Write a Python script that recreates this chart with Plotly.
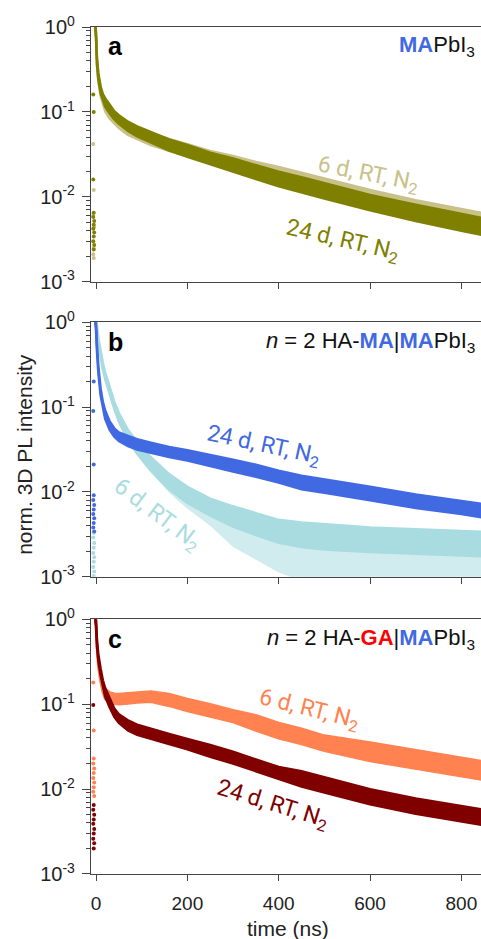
import plotly.graph_objects as go

# ---------------- data ----------------
time_ns = [-2, 0, 2, 5, 10, 15, 20, 30, 40, 50, 70, 90, 120, 160, 200,
           250, 300, 350, 400, 450, 500, 600, 700, 800, 845]

# panel a : MAPbI3
a24_lo = [1.047, 0.741, 0.363, 0.240, 0.166, 0.135, 0.115, 0.0955, 0.0813, 0.0724, 0.0596, 0.0513, 0.0437,
          0.0351, 0.0295, 0.0240, 0.0195, 0.0162, 0.0133, 0.0112, 0.00955, 0.00692, 0.00519, 0.00398, 0.00355]
a24_hi = [1.202, 0.851, 0.437, 0.288, 0.200, 0.162, 0.145, 0.120, 0.102, 0.0912, 0.0767, 0.0676, 0.0575,
          0.0473, 0.0407, 0.0331, 0.0282, 0.0234, 0.0197, 0.0170, 0.0145, 0.0105, 0.00804, 0.00631, 0.00562]
a6_lo = [1.047, 0.741, 0.355, 0.230, 0.155, 0.125, 0.102, 0.0832, 0.0724, 0.0646, 0.0537, 0.0479, 0.0407,
         0.0347, 0.0302, 0.0251, 0.0209, 0.0178, 0.0148, 0.0126, 0.0107, 0.00759, 0.00575, 0.00437, 0.00389]
a6_hi = [1.202, 0.851, 0.430, 0.280, 0.190, 0.155, 0.135, 0.110, 0.0955, 0.0851, 0.0708, 0.0631, 0.0562,
         0.0479, 0.0417, 0.0347, 0.0302, 0.0257, 0.0224, 0.0191, 0.0162, 0.0120, 0.00912, 0.00724, 0.00646]

# panel b : n = 2 HA-MA|MAPbI3
b24_lo = [1.023, 0.813, 0.457, 0.257, 0.138, 0.0955, 0.0724, 0.0537, 0.0447, 0.0398, 0.0347, 0.0316, 0.0288,
          0.0257, 0.0234, 0.0200, 0.0174, 0.0151, 0.0129, 0.0107, 0.00977, 0.00794, 0.00646, 0.00550, 0.00501]
b24_hi = [1.230, 0.977, 0.550, 0.309, 0.166, 0.115, 0.0912, 0.0676, 0.0562, 0.0501, 0.0457, 0.0417, 0.0380,
          0.0339, 0.0309, 0.0275, 0.0240, 0.0209, 0.0178, 0.0155, 0.0141, 0.0115, 0.00933, 0.00794, 0.00724]
# 6 d : dense core (mid..hi) and sparse tail of noisy points (lo..mid)
b6_lo = [1.023, 0.912, 0.776, 0.550, 0.380, 0.275, 0.214, 0.138, 0.0955, 0.0676, 0.0407, 0.0282, 0.0170,
         0.00977, 0.00631, 0.00398, 0.00224, 0.00158, 0.00112, 0.00089, 0.00089, 0.00089, 0.00089, 0.00089, 0.00089]
b6_mid = [1.023, 0.912, 0.776, 0.550, 0.380, 0.275, 0.214, 0.138, 0.0955, 0.0676, 0.0407, 0.0282, 0.0178,
          0.0107, 0.00741, 0.00525, 0.00389, 0.00309, 0.00251, 0.00224, 0.00209, 0.00195, 0.00186, 0.00178, 0.00174]
b6_hi = [1.230, 1.096, 0.933, 0.661, 0.457, 0.331, 0.257, 0.166, 0.115, 0.0851, 0.0537, 0.0389, 0.0257,
         0.0162, 0.0115, 0.00832, 0.00676, 0.00562, 0.00468, 0.00437, 0.00417, 0.00380, 0.00363, 0.00347, 0.00339]

# panel c : n = 2 HA-GA|MAPbI3
c6_lo = [1.023, 0.813, 0.457, 0.275, 0.182, 0.138, 0.115, 0.105, 0.101, 0.100, 0.102, 0.105, 0.107,
         0.0955, 0.0832, 0.0724, 0.0617, 0.0490, 0.0398, 0.0339, 0.0282, 0.0214, 0.0174, 0.0141, 0.0129]
c6_hi = [1.230, 0.977, 0.550, 0.331, 0.219, 0.166, 0.151, 0.138, 0.133, 0.132, 0.135, 0.138, 0.141,
         0.132, 0.115, 0.100, 0.0851, 0.0741, 0.0603, 0.0513, 0.0427, 0.0355, 0.0288, 0.0234, 0.0214]
c24_lo = [1.023, 0.813, 0.479, 0.324, 0.219, 0.158, 0.123, 0.0912, 0.0708, 0.0603, 0.0490, 0.0437, 0.0389,
          0.0339, 0.0295, 0.0240, 0.0200, 0.0162, 0.0132, 0.0107, 0.00912, 0.00661, 0.00513, 0.00417, 0.00380]
c24_hi = [1.230, 0.977, 0.575, 0.389, 0.263, 0.191, 0.155, 0.115, 0.0891, 0.0759, 0.0646, 0.0575, 0.0513,
          0.0447, 0.0389, 0.0331, 0.0275, 0.0224, 0.0182, 0.0162, 0.0138, 0.0100, 0.00776, 0.00631, 0.00575]

# pre-pulse background points (t, value)
a24_bg_t = [-5, -6, -4, -5, -6, -4, -5, -6, -4, -5, -6, -5, -6]
a24_bg_v = [0.0065, 0.0058, 0.0052, 0.0047, 0.0042, 0.0038, 0.0034, 0.0030, 0.0027, 0.0024, 0.016, 0.10, 0.16]
a6_bg_t = [-6, -5, -4, -6, -5, -6, -5]
a6_bg_v = [0.0021, 0.0025, 0.0044, 0.0061, 0.012, 0.042, 0.0019]
b24_bg_t = [-5, -6, -4, -5, -6, -4, -5, -6, -4, -5, -6, -5]
b24_bg_v = [0.0091, 0.0080, 0.0070, 0.0062, 0.0055, 0.0049, 0.0043, 0.0038, 0.0034, 0.021, 0.09, 0.2]
b6_bg_t = [-5, -6, -4, -5, -6, -4, -5, -6, -4, -5]
b6_bg_v = [0.0033, 0.0029, 0.0025, 0.0022, 0.0019, 0.0017, 0.0015, 0.0013, 0.00115, 0.00102]
c6_bg_t = [-5, -6, -4, -5, -6, -4, -5, -6, -4, -5, -6]
c6_bg_v = [0.023, 0.020, 0.0175, 0.0155, 0.0135, 0.012, 0.0105, 0.0093, 0.0083, 0.049, 0.18]
c24_bg_t = [-5, -6, -4, -5, -6, -4, -5, -6, -4, -5, -6]
c24_bg_v = [0.0065, 0.0057, 0.0050, 0.0044, 0.0039, 0.0034, 0.0030, 0.0026, 0.0023, 0.0020, 0.098]

x_ticks = [0, 200, 400, 600, 800]
y_ticks = [0.001, 0.01, 0.1, 1]
y_ticktext = ["10<sup>-3</sup>", "10<sup>-2</sup>", "10<sup>-1</sup>", "10<sup>0</sup>"]
y_minor = [m * 10 ** e for e in (-3, -2, -1) for m in range(2, 10)]

# ---------------- styles ----------------
OLIVE = "#808000"
KHAKI = "#c9c18a"
BLUE = "#4169e1"
CYAN = "#a9dce0"
CYAN_SPARSE = "rgba(169,220,224,0.55)"
ORANGE = "#ff8250"
DRED = "#800000"
AX = "#444444"
SANS = "Liberation Sans, Arial, sans-serif"
ROBO = "Roboto, Liberation Sans, sans-serif"

fig = go.Figure()


def edge(xa, ya, y, color, fill=None, width=2.5):
    fig.add_trace(go.Scatter(x=time_ns, y=y, mode="lines", line=dict(color=color, width=width),
                             fill=fill, fillcolor=color if fill else None,
                             xaxis=xa, yaxis=ya, showlegend=False, hoverinfo="skip"))


def band(xa, ya, lo, hi, color, bg_t, bg_v):
    edge(xa, ya, lo, color)
    edge(xa, ya, hi, color, fill="tonexty")
    fig.add_trace(go.Scatter(x=bg_t, y=bg_v, mode="markers", marker=dict(color=color, size=4),
                             xaxis=xa, yaxis=ya, showlegend=False, hoverinfo="skip"))


band("x", "y", a6_lo, a6_hi, KHAKI, a6_bg_t, a6_bg_v)
band("x", "y", a24_lo, a24_hi, OLIVE, a24_bg_t, a24_bg_v)
# panel b, 6 d: sparse tail then dense core
edge("x2", "y2", b6_lo, CYAN_SPARSE, width=0)
edge("x2", "y2", b6_mid, CYAN_SPARSE, fill="tonexty", width=0)
band("x2", "y2", b6_mid, b6_hi, CYAN, b6_bg_t, b6_bg_v)
band("x2", "y2", b24_lo, b24_hi, BLUE, b24_bg_t, b24_bg_v)
band("x3", "y3", c6_lo, c6_hi, ORANGE, c6_bg_t, c6_bg_v)
band("x3", "y3", c24_lo, c24_hi, DRED, c24_bg_t, c24_bg_v)

domains = {"": [0.6993, 1.0], "2": [0.3510, 0.6514], "3": [0.0, 0.3007]}
layout = {}
for k, dom in domains.items():
    layout["xaxis" + k] = dict(
        domain=[0, 1], anchor="y" + k, range=[-11, 843], tickvals=x_ticks, automargin=False,
        showticklabels=(k == "3"), ticks="outside", ticklen=6, tickwidth=1.3, tickcolor=AX,
        showline=True, linecolor=AX, linewidth=1.3, mirror=True, showgrid=False, zeroline=False,
        tickfont=dict(family=SANS, size=19, color="#222"), ticklabelstandoff=6)
    layout["yaxis" + k] = dict(
        domain=dom, anchor="x" + k, type="log", range=[-3, 0], automargin=False,
        tickvals=y_ticks, ticktext=y_ticktext, ticks="outside", ticklen=8, tickwidth=1.3,
        tickcolor=AX, showline=True, linecolor=AX, linewidth=1.3, showgrid=False, zeroline=False,
        minor=dict(tickvals=y_minor, ticks="outside", ticklen=4, tickwidth=1, tickcolor=AX, showgrid=False),
        tickfont=dict(family=SANS, size=20, color="#222"), ticklabelstandoff=3)

fig.update_layout(width=481, height=939, margin=dict(l=91, r=0, t=27, b=65, autoexpand=False),
                  paper_bgcolor="white", plot_bgcolor="white", **layout)

ann = []
# panel letters
for lab, y in (("a", 0.978), ("b", 0.6284), ("c", 0.2779)):
    ann.append(dict(text="<b>%s</b>" % lab, xref="paper", yref="paper", x=0.038, y=y,
                    xanchor="left", yanchor="middle", showarrow=False,
                    font=dict(family=SANS, size=25, color="black")))
# sample titles
ma = "<b><span style='color:%s'>MA</span></b>" % BLUE
ga = "<b><span style='color:#ff0000'>GA</span></b>"
titles = [("%sPbI<sub>3</sub>" % ma, 0.978),
          ("<i>n</i> = 2 HA-%s|%sPbI<sub>3</sub>" % (ma, ma), 0.6284),
          ("<i>n</i> = 2 HA-%s|%sPbI<sub>3</sub>" % (ga, ma), 0.2779)]
for txt, y in titles:
    ann.append(dict(text=txt, xref="paper", yref="paper", x=0.99, y=y, xanchor="right",
                    yanchor="middle", showarrow=False, font=dict(family=SANS, size=22, color="#111")))
# curve labels
lab6 = "6 d, RT, N<sub>2</sub>"
lab24 = "24 d, RT, N<sub>2</sub>"
curve_labels = [
    (lab6, KHAKI, "x", "y", 596, -1.74, 11),
    (lab24, OLIVE, "x", "y", 539, -2.52, 13),
    (lab24, BLUE, "x2", "y2", 367, -1.455, 12),
    (lab6, CYAN, "x2", "y2", 133, -2.27, 37),
    (lab6, ORANGE, "x3", "y3", 467, -1.07, 14),
    (lab24, DRED, "x3", "y3", 387, -2.19, 17),
]
for txt, col, xr, yr, x, y, ang in curve_labels:
    ann.append(dict(text=txt, xref=xr, yref=yr, x=x, y=y, textangle=ang, showarrow=False,
                    font=dict(family=ROBO, size=23, color=col)))
# axis titles
ann.append(dict(text="time (ns)", xref="paper", yref="paper", x=0.505, y=-0.0638,
                xanchor="center", yanchor="middle", showarrow=False,
                font=dict(family=SANS, size=21, color="#222")))
ann.append(dict(text="norm. 3D PL intensity", xref="paper", yref="paper", x=-0.169, y=0.495,
                xanchor="center", yanchor="middle", textangle=-90, showarrow=False,
                font=dict(family=SANS, size=21, color="#222")))
fig.update_layout(annotations=ann)

fig.write_html("out.html", config={"displayModeBar": False},
               post_script="document.body.style.margin='0';")
